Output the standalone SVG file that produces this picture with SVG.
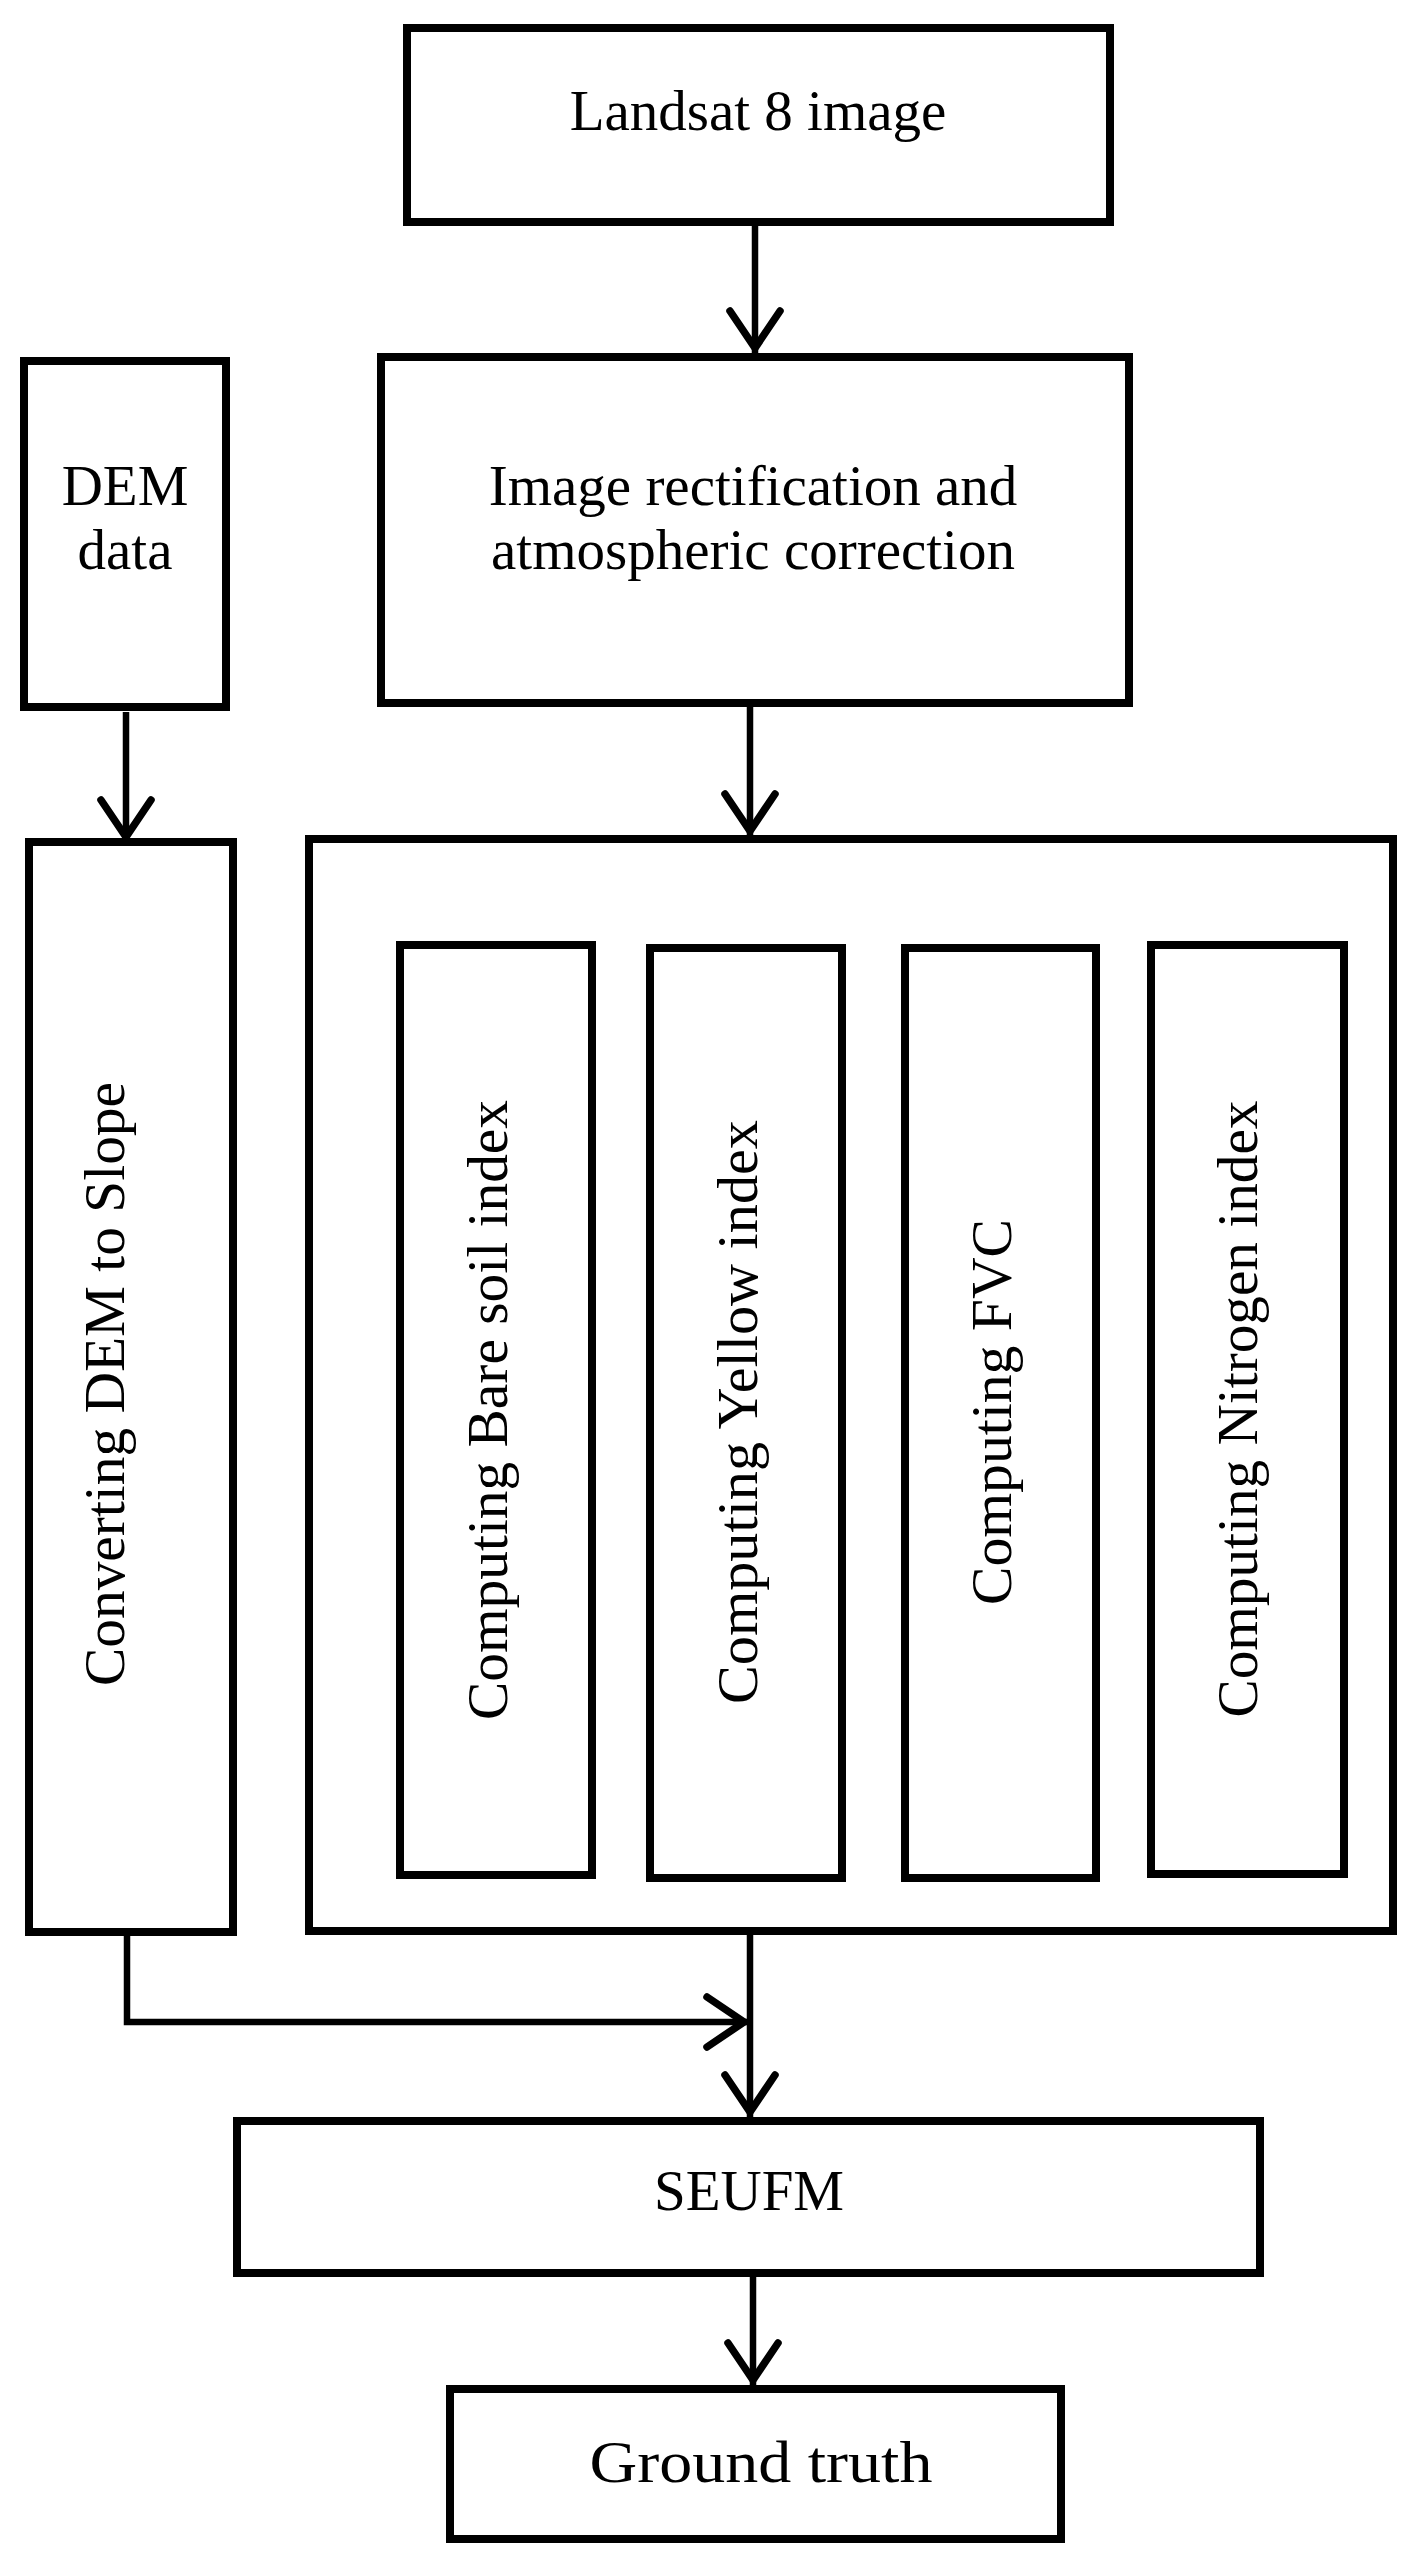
<svg xmlns="http://www.w3.org/2000/svg" width="1416" height="2568" viewBox="0 0 1416 2568">
  <style>
    .box { fill: #fff; stroke: #000; stroke-width: 8; }
    .lbl { font-family: "Liberation Serif", "Times New Roman", serif; font-size: 57px; fill: #000; text-anchor: middle; }
    .conn { fill: none; stroke: #000; stroke-width: 6.5; }
  </style>
  <defs>
    <marker id="arr" markerUnits="userSpaceOnUse" markerWidth="70" markerHeight="70" viewBox="-55 -35 70 70" refX="0" refY="0" orient="auto">
      <path d="M-42,-25 L-5,0 L-42,25" fill="none" stroke="#000" stroke-width="7.5" stroke-linecap="round"/>
    </marker>
  </defs>
  <rect width="1416" height="2568" fill="#fff"/>

  <g id="landsat">
    <rect class="box" x="407" y="28" width="703" height="194"/>
    <text class="lbl" x="758" y="130">Landsat 8 image</text>
  </g>
  <g id="rectification">
    <rect class="box" x="381" y="357" width="748" height="346"/>
    <text class="lbl" x="753" y="505">Image rectification and</text>
    <text class="lbl" x="753" y="569">atmospheric correction</text>
  </g>
  <g id="dem">
    <rect class="box" x="24" y="361" width="202" height="346"/>
    <text class="lbl" x="125" y="505">DEM</text>
    <text class="lbl" x="125" y="569">data</text>
  </g>
  <g id="converting">
    <rect class="box" x="29" y="842" width="204" height="1090"/>
    <text class="lbl" transform="translate(124,1384) rotate(-90)" textLength="604" lengthAdjust="spacingAndGlyphs">Converting DEM to Slope</text>
  </g>
  <g id="indices">
    <rect class="box" x="309" y="839" width="1084" height="1092"/>
  </g>
  <g id="bare-soil">
    <rect class="box" x="400" y="945" width="192" height="930"/>
    <text class="lbl" transform="translate(507,1410) rotate(-90)" textLength="620" lengthAdjust="spacingAndGlyphs">Computing Bare soil index</text>
  </g>
  <g id="yellow">
    <rect class="box" x="650" y="948" width="192" height="930"/>
    <text class="lbl" transform="translate(757,1412) rotate(-90)" textLength="584" lengthAdjust="spacingAndGlyphs">Computing Yellow index</text>
  </g>
  <g id="fvc">
    <rect class="box" x="905" y="948" width="191" height="930"/>
    <text class="lbl" transform="translate(1011,1412) rotate(-90)" textLength="386" lengthAdjust="spacingAndGlyphs">Computing FVC</text>
  </g>
  <g id="nitrogen">
    <rect class="box" x="1151" y="945" width="193" height="929"/>
    <text class="lbl" transform="translate(1257,1409) rotate(-90)" textLength="617" lengthAdjust="spacingAndGlyphs">Computing Nitrogen index</text>
  </g>
  <g id="seufm">
    <rect class="box" x="237" y="2121" width="1023" height="152"/>
    <text class="lbl" x="749" y="2210">SEUFM</text>
  </g>
  <g id="ground-truth">
    <rect class="box" x="450" y="2389" width="611" height="150"/>
    <text class="lbl" x="761" y="2482" style="font-size:60px" textLength="343" lengthAdjust="spacingAndGlyphs">Ground truth</text>
  </g>

  <g id="connectors">
    <path class="conn" d="M755,226 V353" marker-end="url(#arr)"/>
    <path class="conn" d="M126,712 V842" marker-end="url(#arr)"/>
    <path class="conn" d="M750,707 V836" marker-end="url(#arr)"/>
    <path class="conn" d="M750,1935 V2117" marker-end="url(#arr)"/>
    <path class="conn" d="M127,1932 V2022 H749" marker-end="url(#arr)"/>
    <path class="conn" d="M753,2277 V2385" marker-end="url(#arr)"/>
  </g>
</svg>
